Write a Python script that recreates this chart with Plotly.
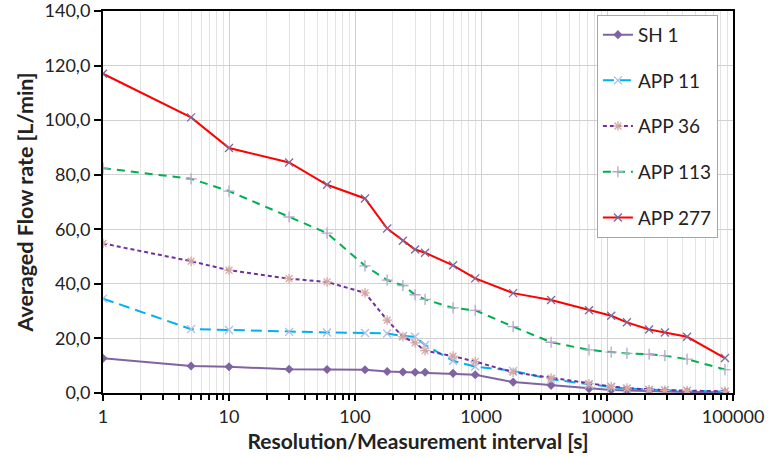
import plotly.graph_objects as go

x_vals = [1, 5, 10, 30, 60, 120, 180, 240, 300, 360, 600, 900, 1800, 3600, 7200,
          10800, 14400, 21600, 28800, 43200, 86400]

sh1 = [12.7, 9.9, 9.6, 8.7, 8.6, 8.5, 7.9, 7.7, 7.6, 7.6, 7.2, 6.7, 4.0, 2.8, 1.6,
       1.1, 0.9, 0.7, 0.6, 0.4, 0.3]
app11 = [34.6, 23.4, 23.1, 22.4, 22.2, 22.0, 21.8, 20.9, 20.6, 17.6, 11.8, 9.7, 8.1, 5.0, 3.1,
         2.2, 1.6, 1.1, 1.0, 0.8, 0.5]
app36 = [54.8, 48.3, 45.0, 41.9, 40.7, 36.7, 26.7, 20.6, 18.4, 15.5, 13.5, 11.5, 7.6, 5.5, 3.4,
         2.4, 1.8, 1.2, 1.0, 0.9, 0.6]
app113 = [82.4, 78.5, 74.0, 64.5, 58.6, 46.6, 41.4, 39.4, 36.0, 34.3, 31.2, 30.3, 24.3, 18.6, 15.8,
          15.0, 14.5, 14.2, 13.7, 12.4, 8.6]
app277 = [117.0, 101.0, 89.8, 84.5, 76.3, 71.3, 60.3, 55.8, 52.6, 51.4, 46.8, 42.0, 36.6, 34.1, 30.3,
          28.3, 25.9, 23.3, 22.2, 20.6, 12.8]

x_tickvals = [1, 10, 100, 1000, 10000, 100000]
x_ticktext = ["1", "10", "100", "1000", "10000", "100000"]
y_tickvals = [0, 20, 40, 60, 80, 100, 120, 140]

FONT = "Lato"

fig = go.Figure()

series = [
    ("SH 1", sh1, "#8064A2", "solid", 2, dict(symbol="diamond", size=7, color="#8064A2")),
    ("APP 11", app11, "#00B0F0", "11px,6px", 2,
     dict(symbol="x-thin-open", size=8, color="#A9BFE3", line=dict(width=1.3, color="#A9BFE3"))),
    ("APP 36", app36, "#7030A0", "4px,3px", 2,
     dict(symbol="asterisk-open", size=8, color="#D6A8A4", line=dict(width=1.3, color="#D6A8A4"))),
    ("APP 113", app113, "#00B050", "8px,6px", 2,
     dict(symbol="cross-thin-open", size=8, color="#B6A6CC", line=dict(width=1.3, color="#B6A6CC"))),
    ("APP 277", app277, "#FF0000", "solid", 2,
     dict(symbol="x-thin-open", size=8, color="#7B6A9C", line=dict(width=1.3, color="#7B6A9C"))),
]

for i, (name, vals, color, dash, width, marker) in enumerate(series):
    fig.add_trace(go.Scatter(
        x=x_vals, y=vals, name=name, mode="lines+markers",
        line=dict(color=color, dash=dash, width=width),
        marker=marker, legendgroup=f"g{i}",
    ))

fig.update_layout(
    width=770, height=457,
    margin=dict(l=103, r=37, t=11, b=64, autoexpand=False),
    paper_bgcolor="white", plot_bgcolor="white",
    separators=",.",
    font=dict(family=FONT, size=18, color="#222222"),
    showlegend=True,
    legend=dict(
        x=0.784, y=0.99, xanchor="left", yanchor="top",
        bgcolor="white", bordercolor="#A6A6A6", borderwidth=1,
        font=dict(family=FONT, size=19, color="#222222"),
        traceorder="grouped", tracegroupgap=18,
        itemwidth=30,
    ),
)

fig.update_xaxes(
    type="log", range=[0, 5], automargin=False,
    tickmode="array", tickvals=x_tickvals, ticktext=x_ticktext,
    ticks="outside", ticklen=6, tickcolor="black", tickwidth=1.5,
    showline=True, linecolor="black", linewidth=2, mirror=True,
    showgrid=True, gridcolor="#D0D0D0", gridwidth=1,
    minor=dict(dtick="D1", ticks="outside", ticklen=5, tickcolor="black",
               showgrid=True, gridcolor="#E3E3E3", gridwidth=1),
    tickfont=dict(family=FONT, size=18, color="#222222"),
    ticklabeloverflow="allow",
    title=dict(text="<b>Resolution/Measurement interval [s]</b>",
               font=dict(family=FONT, size=21, color="#222222"), standoff=9),
    zeroline=False,
)

fig.update_yaxes(
    range=[0, 140], automargin=False,
    tickmode="array", tickvals=y_tickvals, tickformat=".1f",
    ticks="outside", ticklen=7, tickcolor="black", tickwidth=1.5,
    showline=True, linecolor="black", linewidth=2, mirror=True,
    showgrid=True, gridcolor="#D0D0D0", gridwidth=1,
    tickfont=dict(family=FONT, size=18, color="#222222"),
    ticklabeloverflow="allow",
    title=dict(text="<b>Averaged Flow rate [L/min]</b>",
               font=dict(family=FONT, size=21.5, color="#222222"), standoff=5),
    zeroline=False,
)

fig.write_html("out.html", config={"displayModeBar": False},
               post_script="document.body.style.margin='0px';")
